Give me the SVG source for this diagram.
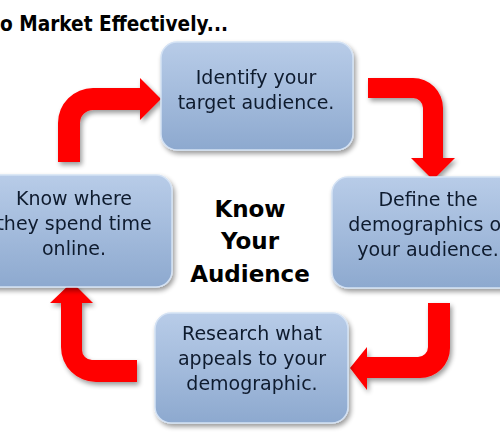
<svg xmlns="http://www.w3.org/2000/svg" width="500" height="444" viewBox="0 0 500 444">
<defs>
<linearGradient id="boxg" x1="0" y1="0" x2="0" y2="1">
<stop offset="0" stop-color="#b8cce8"/>
<stop offset="0.5" stop-color="#a3bbdc"/>
<stop offset="1" stop-color="#8da9cf"/>
</linearGradient>
<filter id="sh" x="-20%" y="-20%" width="140%" height="140%">
<feGaussianBlur in="SourceAlpha" stdDeviation="2.5"/>
<feOffset dx="2" dy="3" result="b"/>
<feComponentTransfer><feFuncA type="linear" slope="0.4"/></feComponentTransfer>
<feMerge><feMergeNode/><feMergeNode in="SourceGraphic"/></feMerge>
</filter>
</defs>
<style>
.box{fill:url(#boxg);stroke:#d4e2f4;stroke-width:1.5}
.t{font-family:"DejaVu Sans",Verdana,sans-serif;font-size:19px;fill:#0f1a2e;text-anchor:middle}
.c{font-family:"DejaVu Sans",Verdana,sans-serif;font-size:23px;font-weight:bold;fill:#000;text-anchor:middle}
.arr{fill:#ff0000}
</style>
<rect width="500" height="444" fill="#fff"/>
<text x="0" y="31" font-family="DejaVu Sans,Verdana,sans-serif" font-size="21" font-weight="bold" fill="#000" textLength="228" lengthAdjust="spacingAndGlyphs">o Market Effectively...</text>

<g id="connectors" filter="url(#sh)">
<path class="arr" d="M58,162 L58,123 A35,35 0 0 1 93,88 L140,88 L140,78 L161,99 L140,120 L140,110 L93,110 A13,13 0 0 0 80,123 L80,162 Z"/>
<path class="arr" d="M368,78 L413,78 A30,30 0 0 1 443,108 L443,158 L455,158 L433,180 L411,158 L423,158 L423,108 A10,10 0 0 0 413,98 L368,98 Z"/>
<path class="arr" d="M450,303 L450,348 A30,30 0 0 1 420,378 L367,378 L367,390 L350,368 L367,347 L367,357 L418,357 A10,10 0 0 0 428,347 L428,303 Z"/>
<path class="arr" d="M72,282 L93,303 L82,303 L82,350 A10,10 0 0 0 92,360 L137,360 L137,382 L96,382 A35,35 0 0 1 61,347 L61,303 L50,303 Z"/>
</g>

<g id="node-identify" filter="url(#sh)">
<rect class="box" x="161" y="42" width="192" height="108" rx="16"/>
<text class="t" x="256" y="84">Identify your</text>
<text class="t" x="256" y="109">target audience.</text>
</g>
<g id="node-define" filter="url(#sh)">
<rect class="box" x="332" y="177" width="192" height="111" rx="16"/>
<text class="t" x="428" y="206">Define the</text>
<text class="t" x="428" y="231">demographics of</text>
<text class="t" x="428" y="256">your audience.</text>
</g>
<g id="node-research" filter="url(#sh)">
<rect class="box" x="155" y="313" width="193" height="110" rx="16"/>
<text class="t" x="252" y="340">Research what</text>
<text class="t" x="252" y="365">appeals to your</text>
<text class="t" x="252" y="390">demographic.</text>
</g>
<g id="node-know" filter="url(#sh)">
<rect class="box" x="-24" y="175" width="196" height="112" rx="16"/>
<text class="t" x="74" y="205">Know where</text>
<text class="t" x="74" y="230">they spend time</text>
<text class="t" x="74" y="255">online.</text>
</g>
<g id="center">
<text class="c" x="250" y="217">Know</text>
<text class="c" x="250" y="249">Your</text>
<text class="c" x="250" y="282">Audience</text>
</g>
</svg>
